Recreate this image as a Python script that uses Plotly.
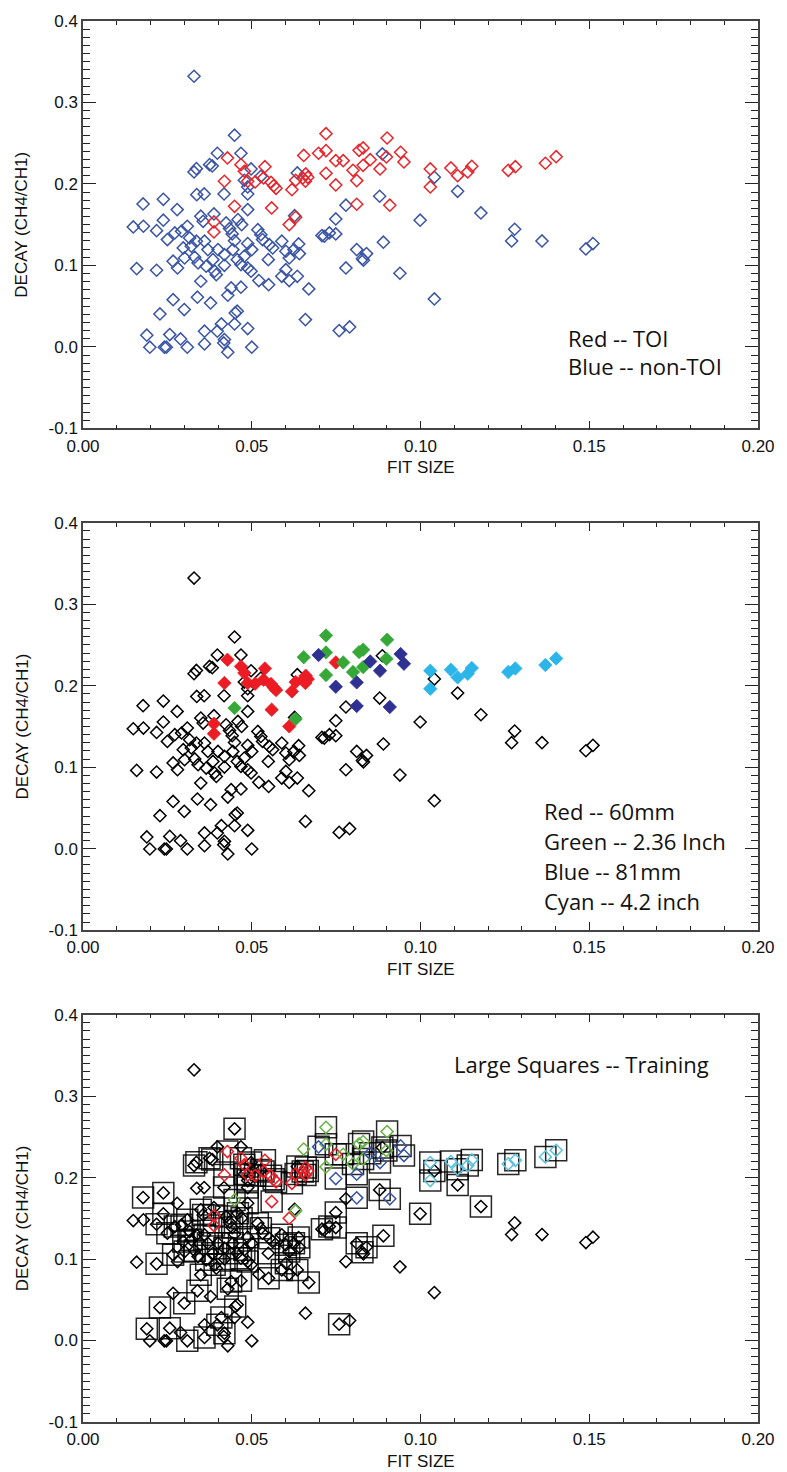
import plotly.graph_objects as go

# ---------------- data ----------------
# non-TOI points: fit size, decay, training flag (1 = large square in panel 3)
non_fit = [0.0329, 0.0449, 0.0398, 0.0468, 0.0375, 0.0383, 0.0336, 0.0329, 0.0498, 0.0527,
           0.0635, 0.0478, 0.0488, 0.0337, 0.0359, 0.0418, 0.0488, 0.0178, 0.0238, 0.0279,
           0.0488, 0.0349, 0.0388, 0.0356, 0.0238, 0.0149, 0.0179, 0.0218, 0.0250, 0.0272,
           0.0292, 0.0309, 0.0316, 0.0424, 0.0434, 0.0459, 0.0470, 0.0442, 0.0449, 0.0518,
           0.0527, 0.0532, 0.0552, 0.0562, 0.0589, 0.0601, 0.0611, 0.0625, 0.0635, 0.0488,
           0.0500, 0.0478, 0.0457, 0.0444, 0.0419, 0.0400, 0.0370, 0.0360, 0.0336, 0.0321,
           0.0297, 0.0301, 0.0331, 0.0341, 0.0365, 0.0385, 0.0390, 0.0395, 0.0419, 0.0468,
           0.0488, 0.0498, 0.0267, 0.0280, 0.0159, 0.0218, 0.0349, 0.0439, 0.0468, 0.0429,
           0.0521, 0.0550, 0.0589, 0.0601, 0.0611, 0.0549, 0.0267, 0.0339, 0.0378, 0.0300,
           0.0228, 0.0451, 0.0457, 0.0410, 0.0449, 0.0398, 0.0360, 0.0488, 0.0189, 0.0257,
           0.0289, 0.0198, 0.0241, 0.0247, 0.0309, 0.0360, 0.0419, 0.0417, 0.0429, 0.0500,
           0.0887, 0.1041, 0.1110, 0.0879, 0.0779, 0.0627, 0.0749, 0.0999, 0.1179, 0.0708,
           0.0715, 0.0730, 0.0749, 0.0639, 0.0641, 0.0811, 0.0840, 0.0828, 0.0831, 0.0890,
           0.1279, 0.1270, 0.1360, 0.1490, 0.1511, 0.0779, 0.0669, 0.0939, 0.1041, 0.0659,
           0.0759, 0.0790]
non_decay = [0.3322, 0.2598, 0.2377, 0.2377, 0.2237, 0.2221, 0.2188, 0.2147, 0.2184, 0.2094,
             0.2135, 0.2045, 0.1963, 0.1869, 0.1877, 0.1877, 0.1877, 0.1755, 0.1812, 0.1685,
             0.1685, 0.1604, 0.1632, 0.1542, 0.1555, 0.1472, 0.1481, 0.1427, 0.1317, 0.1399,
             0.1420, 0.1481, 0.1337, 0.1521, 0.1452, 0.1562, 0.1501, 0.1387, 0.1304, 0.1439,
             0.1378, 0.1317, 0.1255, 0.1215, 0.1297, 0.1174, 0.1092, 0.1194, 0.0867, 0.1268,
             0.1194, 0.1113, 0.1071, 0.1194, 0.1133, 0.1194, 0.1194, 0.1297, 0.1297, 0.1236,
             0.1215, 0.1092, 0.1101, 0.1031, 0.0990, 0.1071, 0.0929, 0.0887, 0.1002, 0.1010,
             0.0969, 0.0929, 0.1052, 0.0969, 0.0961, 0.0941, 0.0806, 0.0724, 0.0733, 0.0634,
             0.0814, 0.0764, 0.0867, 0.0948, 0.0814, 0.1071, 0.0580, 0.0610, 0.0540, 0.0458,
             0.0405, 0.0417, 0.0438, 0.0282, 0.0282, 0.0193, 0.0193, 0.0225, 0.0144, 0.0151,
             0.0098, -0.0004, -0.0004, -0.0004, -0.0004, 0.0037, 0.0090, 0.0049, -0.0065, -0.0004,
             0.2368, 0.2082, 0.1910, 0.1849, 0.1739, 0.1611, 0.1571, 0.1555, 0.1644, 0.1366,
             0.1358, 0.1399, 0.1387, 0.1264, 0.1145, 0.1194, 0.1145, 0.1083, 0.1064, 0.1285,
             0.1444, 0.1301, 0.1301, 0.1202, 0.1268, 0.0969, 0.0712, 0.0904, 0.0589, 0.0335,
             0.0200, 0.0245]
non_train = [0, 1, 0, 0, 1, 1, 1, 1, 1, 1,
             1, 1, 1, 0, 0, 1, 1, 1, 1, 0,
             1, 1, 1, 1, 1, 0, 0, 1, 1, 1,
             1, 1, 1, 1, 1, 1, 1, 1, 0, 1,
             1, 0, 1, 0, 1, 1, 1, 1, 1, 1,
             0, 1, 1, 1, 1, 1, 1, 1, 0, 1,
             1, 1, 1, 0, 1, 1, 1, 0, 1, 1,
             1, 0, 1, 0, 0, 1, 1, 1, 1, 1,
             0, 1, 1, 1, 0, 1, 0, 1, 0, 1,
             1, 1, 0, 1, 0, 1, 0, 0, 1, 1,
             0, 0, 0, 0, 1, 1, 1, 0, 0, 0,
             1, 1, 1, 1, 0, 0, 1, 1, 1, 1,
             0, 1, 1, 1, 1, 1, 1, 1, 0, 1,
             0, 0, 0, 0, 0, 0, 1, 0, 0, 0,
             1, 0]

# TOI points, split by weapon class
red_fit = [0.0428, 0.0468, 0.0478, 0.0539, 0.0419, 0.0488, 0.0510, 0.0535, 0.0557, 0.0565,
           0.0572, 0.0619, 0.0630, 0.0559, 0.0388, 0.0388, 0.0611, 0.0749, 0.0660, 0.0666,
           0.0651, 0.0659]
red_decay = [0.2319, 0.2237, 0.2156, 0.2212, 0.2033, 0.2033, 0.2025, 0.2074, 0.2021, 0.1979,
             0.1947, 0.1930, 0.2045, 0.1706, 0.1534, 0.1411, 0.1501, 0.2286, 0.2123, 0.2082,
             0.2074, 0.2033]
red_train = [1, 1, 1, 1, 1, 1, 1, 1, 1, 1,
             1, 1, 1, 1, 1, 1, 0, 1, 1, 1,
             1, 1]

green_fit = [0.0449, 0.0630, 0.0720, 0.0901, 0.0654, 0.0720, 0.0771, 0.0818, 0.0830, 0.0830,
             0.0899, 0.0800, 0.0720]
green_decay = [0.1726, 0.1591, 0.2617, 0.2564, 0.2350, 0.2409, 0.2286, 0.2413, 0.2442, 0.2229,
               0.2331, 0.2168, 0.2131]
green_train = [1, 0, 1, 1, 0, 1, 1, 1, 1, 1, 1, 1, 0]

blue_fit = [0.0698, 0.0851, 0.0880, 0.0941, 0.0951, 0.0811, 0.0749, 0.0811, 0.0909]
blue_decay = [0.2377, 0.2298, 0.2184, 0.2389, 0.2270, 0.2041, 0.1988, 0.1751, 0.1739]
blue_train = [1, 1, 1, 1, 1, 1, 1, 1, 1]

cyan_fit = [0.1029, 0.1029, 0.1090, 0.1110, 0.1140, 0.1152, 0.1260, 0.1281, 0.1370, 0.1402]
cyan_decay = [0.2184, 0.1963, 0.2196, 0.2102, 0.2147, 0.2217, 0.2168, 0.2212, 0.2254, 0.2335]
cyan_train = [1, 1, 1, 1, 1, 1, 1, 1, 1, 1]

x_tick_vals = [0.0, 0.05, 0.10, 0.15, 0.20]
x_tick_text = ["0.00", "0.05", "0.10", "0.15", "0.20"]
y_tick_vals = [-0.1, 0.0, 0.1, 0.2, 0.3, 0.4]
y_tick_text = ["-0.1", "0.0", "0.1", "0.2", "0.3", "0.4"]

# ---------------- style ----------------
C_TOP_BLUE = "#3a55a5"
C_TOP_RED = "#e8252b"
C_RED = "#ec1c24"
C_GREEN = "#36a837"
C_BLUE = "#2e3192"
C_CYAN = "#2bb5e8"
C_GREEN_L = "#6ab347"
C_BLUE_L = "#3a55a5"
C_CYAN_L = "#5cc1dc"

DSIZE = 9.3
DLW = 1.5
TICKFONT = dict(family="Liberation Sans, Arial, sans-serif", size=17, color="#111")
TITLEFONT = dict(family="Liberation Sans, Arial, sans-serif", size=17, color="#111")
NOTEFONT = dict(family="Open Sans, sans-serif", size=22, color="#111")

fig = go.Figure()


def open_diamond(xs, ys, color, xa, ya):
    fig.add_trace(go.Scatter(
        x=xs, y=ys, mode="markers", xaxis=xa, yaxis=ya, showlegend=False,
        marker=dict(symbol="diamond-open", size=DSIZE, color=color,
                    line=dict(width=DLW, color=color))))


def filled_diamond(xs, ys, color, xa, ya):
    fig.add_trace(go.Scatter(
        x=xs, y=ys, mode="markers", xaxis=xa, yaxis=ya, showlegend=False,
        marker=dict(symbol="diamond", size=DSIZE + 1, color=color,
                    line=dict(width=0.8, color=color))))


toi_fit = red_fit + green_fit + blue_fit + cyan_fit
toi_decay = red_decay + green_decay + blue_decay + cyan_decay

# Panel 1
open_diamond(non_fit, non_decay, C_TOP_BLUE, "x", "y")
open_diamond(toi_fit, toi_decay, C_TOP_RED, "x", "y")

# Panel 2
open_diamond(non_fit, non_decay, "#000000", "x2", "y2")
filled_diamond(red_fit, red_decay, C_RED, "x2", "y2")
filled_diamond(green_fit, green_decay, C_GREEN, "x2", "y2")
filled_diamond(blue_fit, blue_decay, C_BLUE, "x2", "y2")
filled_diamond(cyan_fit, cyan_decay, C_CYAN, "x2", "y2")

# Panel 3: training squares
all_fit = non_fit + red_fit + green_fit + blue_fit + cyan_fit
all_decay = non_decay + red_decay + green_decay + blue_decay + cyan_decay
all_train = non_train + red_train + green_train + blue_train + cyan_train
sq_x = [f for f, t in zip(all_fit, all_train) if t]
sq_y = [d for d, t in zip(all_decay, all_train) if t]
fig.add_trace(go.Scatter(
    x=sq_x, y=sq_y, mode="markers", xaxis="x3", yaxis="y3", showlegend=False,
    marker=dict(symbol="square-open", size=21, color="rgba(0,0,0,0.85)",
                line=dict(width=1.5, color="rgba(0,0,0,0.85)"))))
open_diamond(non_fit, non_decay, "#000000", "x3", "y3")
open_diamond(red_fit, red_decay, C_RED, "x3", "y3")
open_diamond(green_fit, green_decay, C_GREEN_L, "x3", "y3")
open_diamond(blue_fit, blue_decay, C_BLUE_L, "x3", "y3")
open_diamond(cyan_fit, cyan_decay, C_CYAN_L, "x3", "y3")

# ---------------- layout ----------------
W, H = 787, 1472
ML, MR, MT, MB = 83, 24, 12, 50
plot_h = H - MT - MB
panels_px = [(12, 422), (517, 927), (1012, 1422)]
domains = [[1 - (b - MT) / plot_h, 1 - (t - MT) / plot_h] for t, b in panels_px]

axis_common = dict(
    showgrid=False, zeroline=False, showline=True, linecolor="#444", linewidth=1.5,
    mirror="ticks", ticks="inside", tickwidth=1.1, tickcolor="#222",
    tickfont=TICKFONT,
)

layout = dict(
    width=W, height=H, margin=dict(l=ML, r=MR, t=MT, b=MB),
    paper_bgcolor="white", plot_bgcolor="white", showlegend=False,
)
annotations = []
for i in range(3):
    sfx = "" if i == 0 else str(i + 1)
    layout["xaxis" + sfx] = dict(
        axis_common, range=[0, 0.2], tickvals=x_tick_vals, ticktext=x_tick_text,
        anchor="y" + sfx, domain=[0, 1], ticklen=8, ticklabelstandoff=1,
        minor=dict(ticks="inside", ticklen=4, tickwidth=1.0, tickcolor="#222",
                   dtick=0.01, showgrid=False))
    layout["yaxis" + sfx] = dict(
        axis_common, range=[-0.1, 0.4], tickvals=y_tick_vals, ticktext=y_tick_text,
        anchor="x" + sfx, domain=domains[i], ticklen=13,
        minor=dict(ticks="inside", ticklen=7, tickwidth=1.0, tickcolor="#222",
                   dtick=0.01, showgrid=False))
    annotations.append(dict(text="FIT SIZE", xref="x%s domain" % sfx, yref="y%s domain" % sfx,
                            x=0.5, y=0, yshift=-39, showarrow=False, font=TITLEFONT,
                            xanchor="center", yanchor="middle"))
    annotations.append(dict(text="DECAY (CH4/CH1)", xref="x%s domain" % sfx,
                            yref="y%s domain" % sfx, x=0, xshift=-61, y=0.5, textangle=-90,
                            showarrow=False, font=TITLEFONT, xanchor="center", yanchor="middle"))

notes = [
    ("x", "y", 0.1432, 0.0110, "Red -- TOI"),
    ("x", "y", 0.1432, -0.0240, "Blue -- non-TOI"),
    ("x2", "y2", 0.1361, 0.0466, "Red -- 60mm"),
    ("x2", "y2", 0.1361, 0.0098, "Green -- 2.36 Inch"),
    ("x2", "y2", 0.1361, -0.0270, "Blue -- 81mm"),
    ("x2", "y2", 0.1361, -0.0638, "Cyan -- 4.2 inch"),
    ("x3", "y3", 0.1093, 0.3400, "Large Squares -- Training"),
]
for xr, yr, xv, yv, txt in notes:
    annotations.append(dict(text=txt, xref=xr, yref=yr, x=xv, y=yv, showarrow=False,
                            xanchor="left", yanchor="middle", font=NOTEFONT))
layout["annotations"] = annotations
fig.update_layout(**layout)

fig.write_html("out.html")
